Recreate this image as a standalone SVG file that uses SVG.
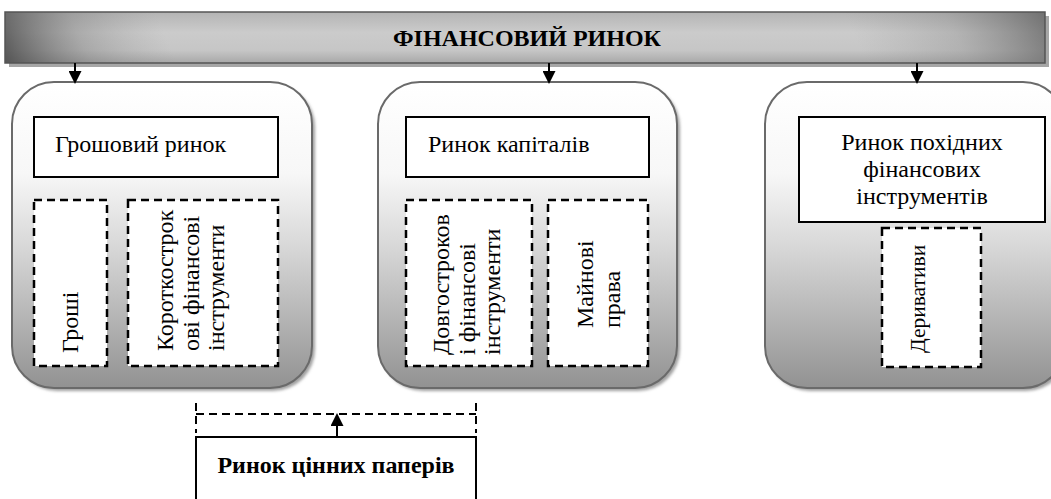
<svg xmlns="http://www.w3.org/2000/svg" width="1051" height="499" viewBox="0 0 1051 499">
<defs>
<linearGradient id="bannerV" x1="0" y1="0" x2="0" y2="1">
<stop offset="0" stop-color="#b4b4b4"/>
<stop offset="0.4" stop-color="#cbcbcb"/>
<stop offset="0.75" stop-color="#c6c6c6"/>
<stop offset="1" stop-color="#a8a8a8"/>
</linearGradient>
<linearGradient id="bannerBL" gradientUnits="userSpaceOnUse" x1="5" y1="63" x2="150" y2="0">
<stop offset="0" stop-color="#505050" stop-opacity="0.95"/>
<stop offset="0.5" stop-color="#707070" stop-opacity="0.35"/>
<stop offset="1" stop-color="#909090" stop-opacity="0"/>
</linearGradient>
<linearGradient id="bannerTR" gradientUnits="userSpaceOnUse" x1="1045" y1="12" x2="880" y2="90">
<stop offset="0" stop-color="#606060" stop-opacity="0.8"/>
<stop offset="0.5" stop-color="#808080" stop-opacity="0.3"/>
<stop offset="1" stop-color="#909090" stop-opacity="0"/>
</linearGradient>
<linearGradient id="boxG" x1="0" y1="0" x2="0" y2="1">
<stop offset="0" stop-color="#ffffff"/>
<stop offset="0.3" stop-color="#f7f7f7"/>
<stop offset="0.55" stop-color="#d6d6d6"/>
<stop offset="1" stop-color="#929292"/>
</linearGradient>
<filter id="soft" x="-10%" y="-10%" width="120%" height="120%">
<feGaussianBlur stdDeviation="1.5"/>
</filter>
<marker id="arr" markerWidth="13" markerHeight="13" refX="11" refY="6.5" orient="auto" markerUnits="userSpaceOnUse">
<path d="M0,0 L13,6.5 L0,13 Z" fill="#000"/>
</marker>
</defs>
<style>
.t{font-family:"Liberation Serif","Times New Roman",serif;font-size:24px;fill:#000}
.b{font-weight:bold}
.sm{font-size:21.5px}
.solid{fill:#fff;stroke:#000;stroke-width:2}
.dash{fill:#fff;stroke:#000;stroke-width:2.5;stroke-dasharray:8 5}
.outer{fill:url(#boxG);stroke:#6a6a6a;stroke-width:2}
.shadow{fill:#a0a0a0;filter:url(#soft)}
.conn{stroke:#000;stroke-width:2;fill:none}
</style>

<g id="banner">
<rect x="9" y="16" width="1040" height="51" fill="#a6a6a6"/>
<rect x="5" y="12" width="1040" height="51" fill="url(#bannerV)"/>
<rect x="5" y="12" width="1040" height="51" fill="url(#bannerBL)"/>
<rect x="5" y="12" width="1040" height="51" fill="url(#bannerTR)"/>
<rect x="5" y="12" width="1040" height="51" fill="none" stroke="#555" stroke-width="1.5"/>
<text class="t b" x="527" y="46" text-anchor="middle">ФІНАНСОВИЙ РИНОК</text>
</g>

<g id="money-market">
<rect class="shadow" x="15" y="85" width="300" height="306" rx="42"/>
<rect class="outer" x="12" y="82" width="300" height="306" rx="42"/>
<rect class="solid" x="34" y="117" width="244" height="60"/>
<text class="t" x="55" y="152">Грошовий ринок</text>
<rect class="dash" x="34" y="200" width="73" height="166"/>
<text class="t" transform="translate(78,353) rotate(-90)">Гроші</text>
<rect class="dash" x="128" y="200" width="150" height="166"/>
<text class="t" transform="translate(173,351) rotate(-90)">Короткострок</text>
<text class="t" transform="translate(199,351) rotate(-90)">ові фінансові</text>
<text class="t" transform="translate(224,351) rotate(-90)">інструменти</text>
</g>

<g id="capital-market">
<rect class="shadow" x="381" y="85" width="299" height="306" rx="42"/>
<rect class="outer" x="378" y="82" width="299" height="306" rx="42"/>
<rect class="solid" x="406" y="117" width="243" height="60"/>
<text class="t" x="428" y="152">Ринок капіталів</text>
<rect class="dash" x="406" y="200" width="126" height="166"/>
<text class="t" transform="translate(449,355) rotate(-90)">Довгостроков</text>
<text class="t" transform="translate(475,355) rotate(-90)">і фінансові</text>
<text class="t" transform="translate(500,355) rotate(-90)">інструменти</text>
<rect class="dash" x="548" y="200" width="100" height="166"/>
<text class="t" transform="translate(593,328) rotate(-90)">Майнові</text>
<text class="t" transform="translate(620,328) rotate(-90)">права</text>
</g>

<g id="derivatives-market">
<rect class="shadow" x="768" y="85" width="300" height="306" rx="42"/>
<rect class="outer" x="765" y="82" width="300" height="306" rx="42"/>
<rect class="solid" x="799" y="117" width="246" height="105"/>
<text class="t" x="922" y="150" text-anchor="middle">Ринок похідних</text>
<text class="t" x="922" y="177" text-anchor="middle">фінансових</text>
<text class="t" x="922" y="204" text-anchor="middle">інструментів</text>
<rect class="dash" x="882" y="228" width="99" height="139"/>
<text class="t sm" transform="translate(925,353) rotate(-90)">Деривативи</text>
</g>

<g id="securities-market">
<rect class="solid" x="196" y="437" width="280" height="70"/>
<text class="t b" x="336" y="473" text-anchor="middle">Ринок цінних паперів</text>
</g>

<g id="connectors">
<line class="conn" x1="75" y1="63" x2="75" y2="82" marker-end="url(#arr)"/>
<line class="conn" x1="549" y1="63" x2="549" y2="82" marker-end="url(#arr)"/>
<line class="conn" x1="917" y1="63" x2="917" y2="82" marker-end="url(#arr)"/>
<path d="M196,403 V433 M476,403 V433 M196,414 H476" stroke="#000" stroke-width="2" fill="none" stroke-dasharray="8 5"/>
<line class="conn" x1="337" y1="437" x2="337" y2="415" marker-end="url(#arr)"/>
</g>
</svg>
